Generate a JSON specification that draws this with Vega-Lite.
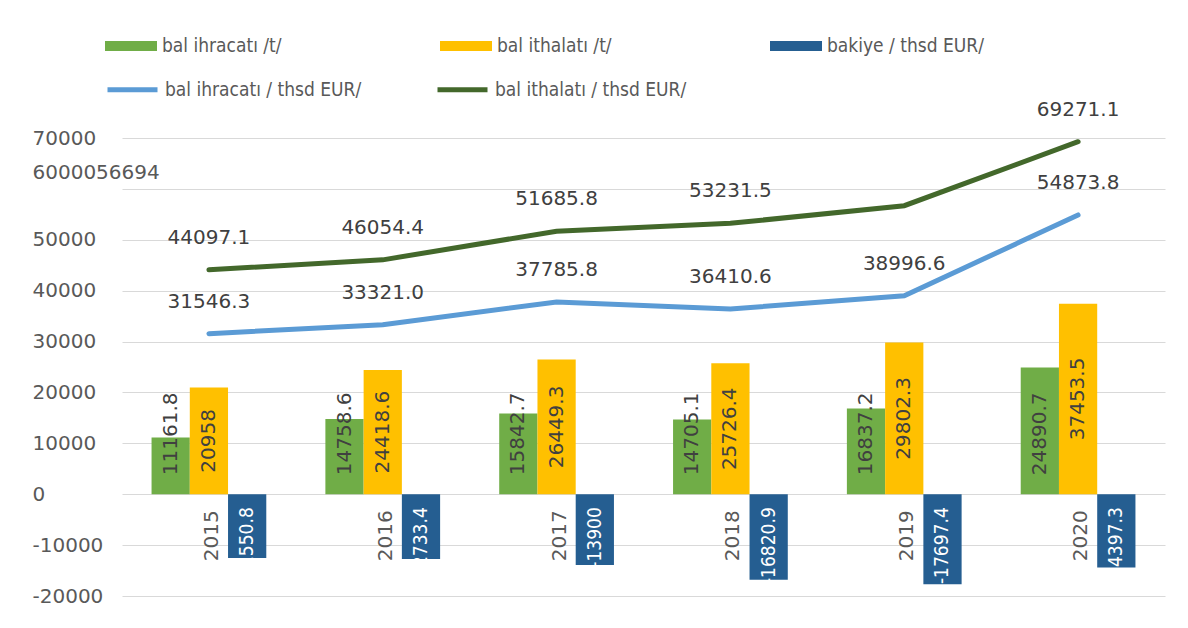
{
  "$schema": "https://vega.github.io/schema/vega-lite/v6.json",
  "width": 1043,
  "height": 458,
  "autosize": {"type": "none"},
  "padding": {"left": 122, "top": 138, "right": 23, "bottom": 32},
  "background": "white",
  "config": {"view": {"stroke": null}, "font": "DejaVu Sans"},
  "datasets": {
    "bars": [
      {"year": "2015", "series": "bal ihracatı /t/", "value": 11161.8},
      {"year": "2015", "series": "bal ithalatı /t/", "value": 20958},
      {"year": "2015", "series": "bakiye / thsd EUR/", "value": -12550.8},
      {"year": "2016", "series": "bal ihracatı /t/", "value": 14758.6},
      {"year": "2016", "series": "bal ithalatı /t/", "value": 24418.6},
      {"year": "2016", "series": "bakiye / thsd EUR/", "value": -12733.4},
      {"year": "2017", "series": "bal ihracatı /t/", "value": 15842.7},
      {"year": "2017", "series": "bal ithalatı /t/", "value": 26449.3},
      {"year": "2017", "series": "bakiye / thsd EUR/", "value": -13900},
      {"year": "2018", "series": "bal ihracatı /t/", "value": 14705.1},
      {"year": "2018", "series": "bal ithalatı /t/", "value": 25726.4},
      {"year": "2018", "series": "bakiye / thsd EUR/", "value": -16820.9},
      {"year": "2019", "series": "bal ihracatı /t/", "value": 16837.2},
      {"year": "2019", "series": "bal ithalatı /t/", "value": 29802.3},
      {"year": "2019", "series": "bakiye / thsd EUR/", "value": -17697.4},
      {"year": "2020", "series": "bal ihracatı /t/", "value": 24890.7},
      {"year": "2020", "series": "bal ithalatı /t/", "value": 37453.5},
      {"year": "2020", "series": "bakiye / thsd EUR/", "value": -14397.3}
    ],
    "lines": [
      {"year": "2015", "series": "bal ihracatı / thsd EUR/", "value": 31546.3},
      {"year": "2016", "series": "bal ihracatı / thsd EUR/", "value": 33321.0},
      {"year": "2017", "series": "bal ihracatı / thsd EUR/", "value": 37785.8},
      {"year": "2018", "series": "bal ihracatı / thsd EUR/", "value": 36410.6},
      {"year": "2019", "series": "bal ihracatı / thsd EUR/", "value": 38996.6},
      {"year": "2020", "series": "bal ihracatı / thsd EUR/", "value": 54873.8},
      {"year": "2015", "series": "bal ithalatı / thsd EUR/", "value": 44097.1},
      {"year": "2016", "series": "bal ithalatı / thsd EUR/", "value": 46054.4},
      {"year": "2017", "series": "bal ithalatı / thsd EUR/", "value": 51685.8},
      {"year": "2018", "series": "bal ithalatı / thsd EUR/", "value": 53231.5},
      {"year": "2019", "series": "bal ithalatı / thsd EUR/", "value": 56694},
      {"year": "2020", "series": "bal ithalatı / thsd EUR/", "value": 69271.1}
    ]
  },
  "layer": [
    {
      "data": {"name": "bars"},
      "mark": {"type": "bar"},
      "encoding": {
        "x": {"field": "year", "type": "nominal", "axis": null, "scale": {"paddingInner": 0.34, "paddingOuter": 0.17}},
        "xOffset": {"field": "series", "type": "nominal", "scale": {"domain": ["bal ihracatı /t/", "bal ithalatı /t/", "bakiye / thsd EUR/"], "padding": 0}},
        "y": {
          "field": "value", "type": "quantitative",
          "scale": {"domain": [-20000, 70000], "nice": false, "zero": false},
          "axis": {
            "title": null, "values": [-20000, -10000, 0, 10000, 20000, 30000, 40000, 50000, 60000, 70000],
            "grid": true, "gridColor": "#d9d9d9", "gridWidth": 1, "domain": false, "ticks": false, "tickSize": 0,
            "labelAlign": "left", "labelPadding": 90, "labelFontSize": 20, "labelColor": "#595959", "labelFont": "DejaVu Sans",
            "labelExpr": "datum.value == 60000 ? '6000056694' : '' + datum.value",
            "labelOffset": {"condition": {"test": "datum.value == 60000", "value": -16}, "value": 0}
          }
        },
        "fill": {
          "field": "series", "type": "nominal",
          "scale": {"domain": ["bal ihracatı /t/", "bal ithalatı /t/", "bakiye / thsd EUR/"], "range": ["#70AD47", "#FFC000", "#255E91"]},
          "legend": {
            "orient": "none", "legendX": -17, "legendY": -118, "direction": "horizontal", "columns": 3, "title": null,
            "symbolType": "M-1,-0.19H1V0.19H-1Z", "symbolSize": 2704, "symbolStrokeWidth": 0, "labelLimit": 400,
            "labelFont": "DejaVu Sans Condensed", "labelFontSize": 19, "labelColor": "#595959", "columnPadding": 158, "labelOffset": 5
          }
        }
      }
    },
    {
      "data": {"name": "bars"},
      "transform": [{"filter": "datum.series == 'bal ihracatı /t/'"}],
      "mark": {"type": "text", "angle": 270, "align": "left", "baseline": "middle", "dx": 19, "fontSize": 20, "color": "#404040"},
      "encoding": {
        "x": {"field": "year", "type": "nominal"},
        "xOffset": {"field": "series", "type": "nominal"},
        "y": {"datum": 0, "type": "quantitative"},
        "text": {"field": "value", "type": "nominal"}
      }
    },
    {
      "data": {"name": "bars"},
      "transform": [{"filter": "datum.series == 'bal ithalatı /t/'"}, {"calculate": "datum.value / 2", "as": "mid"}],
      "mark": {"type": "text", "angle": 270, "align": "center", "baseline": "middle", "fontSize": 20, "color": "#404040"},
      "encoding": {
        "x": {"field": "year", "type": "nominal"},
        "xOffset": {"field": "series", "type": "nominal"},
        "y": {"field": "mid", "type": "quantitative"},
        "text": {"field": "value", "type": "nominal"}
      }
    },
    {
      "data": {"name": "bars"},
      "transform": [{"filter": "datum.series == 'bakiye / thsd EUR/'"}],
      "mark": {"type": "text", "angle": 270, "align": "right", "baseline": "middle", "dx": -13, "fontSize": 19, "font": "DejaVu Sans Condensed", "color": "white"},
      "encoding": {
        "x": {"field": "year", "type": "nominal"},
        "xOffset": {"field": "series", "type": "nominal"},
        "y": {"datum": 0, "type": "quantitative"},
        "text": {"field": "value", "type": "nominal"}
      }
    },
    {
      "data": {"name": "bars"},
      "transform": [{"filter": "datum.series == 'bal ihracatı /t/'"}],
      "mark": {"type": "text", "angle": 270, "align": "right", "baseline": "middle", "dx": -16, "dy": 3, "fontSize": 20, "color": "#595959"},
      "encoding": {
        "x": {"field": "year", "type": "nominal"},
        "y": {"datum": 0, "type": "quantitative"},
        "text": {"field": "year", "type": "nominal"}
      }
    },
    {
      "data": {"name": "lines"},
      "mark": {"type": "line", "strokeWidth": 5, "strokeCap": "round"},
      "encoding": {
        "x": {"field": "year", "type": "nominal"},
        "y": {"field": "value", "type": "quantitative"},
        "stroke": {
          "field": "series", "type": "nominal",
          "scale": {"domain": ["bal ihracatı / thsd EUR/", "bal ithalatı / thsd EUR/"], "range": ["#5B9BD5", "#43682B"]},
          "legend": {
            "orient": "none", "legendX": -17, "legendY": -76, "direction": "horizontal", "columns": 2, "title": null,
            "symbolType": "stroke", "symbolSize": 2500, "symbolStrokeWidth": 5, "labelLimit": 400,
            "labelFont": "DejaVu Sans Condensed", "labelFontSize": 19, "labelColor": "#595959", "columnPadding": 65, "labelOffset": 5
          }
        }
      }
    },
    {
      "data": {"name": "lines"},
      "transform": [{"filter": "!(datum.series == 'bal ithalatı / thsd EUR/' && datum.year == '2019')"}],
      "mark": {"type": "text", "baseline": "middle", "align": "center", "dy": -32, "fontSize": 20, "color": "#404040"},
      "encoding": {
        "x": {"field": "year", "type": "nominal"},
        "y": {"field": "value", "type": "quantitative"},
        "text": {"field": "value", "type": "quantitative", "format": ".1f"}
      }
    }
  ]
}
